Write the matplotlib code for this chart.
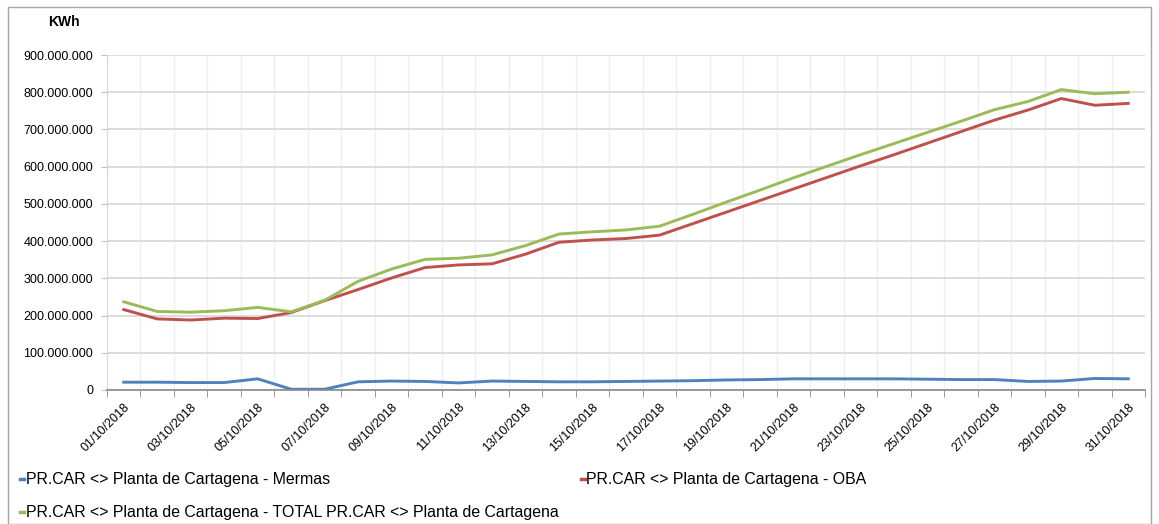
import numpy as np
import matplotlib
matplotlib.use("Agg")
import matplotlib.pyplot as plt
from matplotlib.ticker import FuncFormatter
from matplotlib.lines import Line2D
from matplotlib.patches import Rectangle

# zilele lunii (octombrie 2018)
zile = ["%02d/10/2018" % d for d in range(1, 32)]

# valorile, in milioane KWh
mermas = [21, 21, 20, 20, 30, 2, 2, 22, 24, 23, 19, 24, 23, 22, 22, 23,
          24, 25, 27, 28, 30, 30, 30, 30, 29, 28, 28, 23, 24, 31, 30]

oba = [216, 191, 188, 193, 192, 208, 240, 270, 301, 329, 336, 339, 365, 397, 403, 407,
       416, 447, 478, 509, 540, 571, 602, 632, 663, 694, 725, 752, 783, 765, 770]

total = [237, 211, 209, 213, 222, 210, 241, 292, 325, 351, 354, 363, 388, 419, 425, 430,
         440, 472, 505, 537, 570, 601, 632, 662, 692, 722, 753, 775, 807, 796, 800]

nume = ["PR.CAR <> Planta de Cartagena - Mermas",
        "PR.CAR <> Planta de Cartagena - OBA",
        "PR.CAR <> Planta de Cartagena - TOTAL PR.CAR <> Planta de Cartagena"]
culori = ["#4f81bd", "#c0504d", "#9bbb59"]

plt.rcParams['font.family'] = ['Liberation Sans', 'DejaVu Sans']

fig = plt.figure(figsize=(11.59, 5.24), dpi=100)
ax = fig.add_axes([107 / 1159, 1 - 390 / 524, (1145 - 107) / 1159, (390 - 55) / 524])

# chenarul graficului
fig.patches.append(Rectangle((8 / 1159, 0), 1143 / 1159, 1 - 7 / 524, transform=fig.transFigure,
                             fill=False, edgecolor="#a6a6a6", linewidth=1))

x = np.arange(len(zile))
serii = [mermas, oba, total]
for s, c in zip(serii, culori):
    ax.plot(x, np.array(s) * 1e6, color=c, linewidth=2.1, solid_joinstyle='round')

ax.set_xlim(-0.5, len(zile) - 0.5)
ax.set_ylim(0, 900e6)
ax.set_yticks(np.arange(0, 901e6, 100e6))
ax.yaxis.set_major_formatter(FuncFormatter(lambda v, p: "{:,.0f}".format(v).replace(",", ".")))

# etichete pe x din 2 in 2, tick-uri intre categorii
ax.set_xticks(x[::2])
ax.set_xticklabels(zile[::2], rotation=45, ha='right', va='top', rotation_mode='anchor', fontsize=9)
ax.set_xticks(np.arange(-0.5, len(zile), 1), minor=True)
ax.tick_params(axis='x', which='major', length=0, pad=8)
ax.tick_params(axis='x', which='minor', length=5, color="#898989")
ax.tick_params(axis='y', length=4, color="#bfbfbf", labelsize=9, pad=6)

ax.grid(axis='y', which='major', color="#d9d9d9", linewidth=1.3)
ax.grid(axis='x', which='minor', color="#efefef", linewidth=1)
ax.set_axisbelow(True)

for sp in ['top', 'right']:
    ax.spines[sp].set_visible(False)
ax.spines['left'].set_color("#d9d9d9")
ax.spines['bottom'].set_color("#898989")
ax.spines['bottom'].set_linewidth(1.2)

fig.text(48 / 1159, 1 - 22 / 524, "KWh", fontsize=10, fontweight='bold', va='center')

# legenda
handles = [Line2D([0], [0], color=c, linewidth=2.5) for c in culori]
ordine = [0, 2, 1]
fig.legend([handles[i] for i in ordine], [nume[i] for i in ordine], ncol=2,
           loc='upper left', bbox_to_anchor=(14 / 1159, 1 - 466 / 524), frameon=False,
           handlelength=0.25, handletextpad=0.1, columnspacing=1.4, labelspacing=1.12,
           fontsize=11.4, borderaxespad=0)

plt.savefig("out.png", dpi=100)
